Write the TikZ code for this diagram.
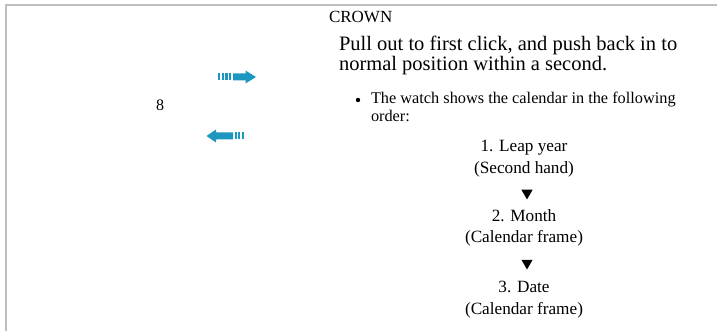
\documentclass[tikz,border=0pt]{standalone}
\usepackage{fontspec}
\setmainfont{Liberation Serif}
\usetikzlibrary{positioning,shapes.geometric}

\definecolor{crownblue}{RGB}{28,152,192}
\definecolor{framegray}{RGB}{190,190,190}

\begin{document}
\begin{tikzpicture}[x=1pt,y=-1pt,
  txt/.style={inner sep=0pt,outer sep=0pt},
  steptxt/.style={txt,align=center,font=\fontsize{17.2}{21.5}\selectfont},
  downtri/.style={regular polygon,regular polygon sides=3,shape border rotate=180,
    fill=black,inner sep=0pt,minimum size=13pt}]
\useasboundingbox (0,0) rectangle (717,331);

% frame
\draw[line width=2.5, color=framegray](5,5) -- (717,5);
\draw[line width=2.5, color=framegray](6,5) -- (6,331);

% crown arrows
\foreach \x in {218,221.7,225.4,229.1} \fill[crownblue](\x,73.5) rectangle ++(2.2,7);
\fill[crownblue](233,73.5) -- (245.5,73.5) -- (245.5,70.5) -- (256,77) -- (245.5,83.5) -- (245.5,80.5) -- (233,80.5) -- cycle;

\foreach \x in {233,236.7,240.4} \fill[crownblue](\x+1.5,132.5) rectangle ++(2.2,7);
\fill[crownblue](233,132.5) -- (216,132.5) -- (216,129.5) -- (206.5,136) -- (216,142.5) -- (216,139.5) -- (233,139.5) -- cycle;

\node[txt, font=\fontsize{16}{16}\selectfont] (eight) at (160,105) {8};

% text
\node[txt, anchor=west, font=\fontsize{17}{17}\selectfont] (crown) at (329,17) {CROWN};
\node[txt, anchor=north west, align=left, font=\fontsize{20.5}{20.5}\selectfont] (pull) at (339,36)
  {Pull out to first click, and push back in to\\normal position within a second.};

\fill (358,100) circle (2.2);
\node[txt, anchor=north west, align=left, font=\fontsize{16.3}{18}\selectfont] (order) at (371,92)
  {The watch shows the calendar in the following\\order:};

% calendar order
\node[steptxt] (leap) at (524,158.5) {1. Leap year\\(Second hand)};
\node[downtri] (t1) at (527,193) {};
\node[steptxt] (month) at (524,228) {2. Month\\(Calendar frame)};
\node[downtri] (t2) at (527,263) {};
\node[steptxt] (date) at (524,299.5) {3. Date\\(Calendar frame)};
\end{tikzpicture}
\end{document}
